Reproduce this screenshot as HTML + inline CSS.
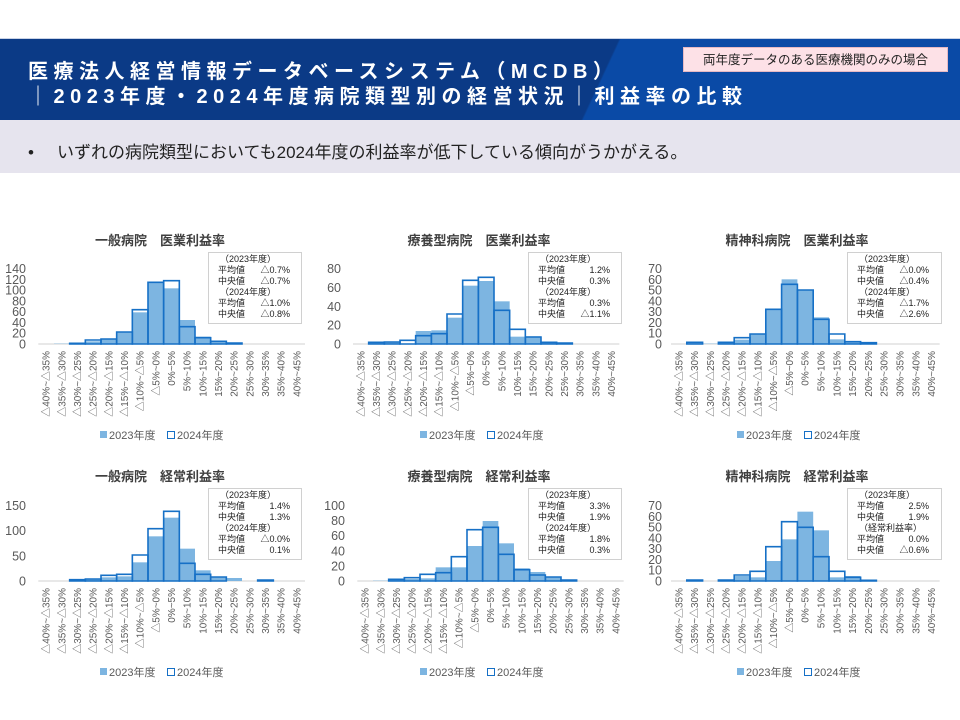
<!DOCTYPE html>
<html><head><meta charset="utf-8"><style>
body{margin:0;width:960px;height:720px;background:#fff;position:relative;overflow:hidden;font-family:"Liberation Sans","Noto Sans CJK JP",sans-serif}
.band{position:absolute;left:0;top:38px;width:960px;height:82px;background:linear-gradient(115deg,#0b3a86 0%,#0b3a86 62%,#0a4aa6 62.2%,#0a4aa6 100%);border-top:1px solid #c9d3e6}
.t{position:absolute;left:28px;color:#fff;font-weight:bold;font-size:20px;letter-spacing:5.5px;white-space:nowrap;font-family:"Liberation Sans","Noto Sans CJK JP",sans-serif}
.badge{position:absolute;left:683px;top:47px;width:265px;height:25px;background:#fde1e7;color:#222;font-size:12.5px;line-height:25px;text-align:center;border:1px solid #e6b9c3;box-sizing:border-box}
.gray{position:absolute;left:0;top:120px;width:960px;height:53px;background:#e6e4ee}
.bul{position:absolute;left:28px;top:138px;font-size:17px;color:#222;white-space:nowrap}
.bul span{display:inline-block;width:29px}
svg{position:absolute;left:0;top:0}
.f{fill:#7db5e1}
.o{fill:none;stroke:#1670c6;stroke-width:1.6px;vector-effect:non-scaling-stroke}
.ax{stroke:#d9d9d9;stroke-width:1.2px;vector-effect:non-scaling-stroke}
.xl text{font-size:30px;fill:#595959;text-anchor:end}
.yl{font-size:12.5px;fill:#595959;text-anchor:end}
.ti{font-size:13px;font-weight:bold;fill:#404040;text-anchor:middle}
.st{font-size:9px;fill:#222}
.lg{font-size:11px;fill:#595959}
</style></head><body>
<div class="band"></div>
<div class="t" style="top:55px">医療法人経営情報データベースシステム（MCDB）</div>
<div class="t" style="top:80px">｜2023年度・2024年度病院類型別の経営状況｜利益率の比較</div>
<div class="badge">両年度データのある医療機関のみの場合</div>
<div class="gray"></div>
<div class="bul"><span>•</span>いずれの病院類型においても2024年度の利益率が低下している傾向がうかがえる。</div>
<svg width="960" height="720" viewBox="0 0 960 720">
<!-- Chart 1 -->
<g transform="translate(0,225) scale(0.33333)">
<line class="ax" x1="115" y1="357" x2="915" y2="357"/>
<rect class="f" x="162" y="356" width="47" height="1"/><rect class="f" x="209" y="354" width="47" height="3"/><rect class="f" x="256" y="349" width="47" height="8"/><rect class="f" x="303" y="343" width="47" height="14"/><rect class="f" x="350" y="322" width="47" height="35"/><rect class="f" x="397" y="262" width="47" height="95"/><rect class="f" x="444" y="170" width="47" height="187"/><rect class="f" x="491" y="190" width="47" height="167"/><rect class="f" x="538" y="285" width="47" height="72"/><rect class="f" x="585" y="335" width="47" height="22"/><rect class="f" x="632" y="348" width="47" height="9"/><rect class="f" x="679" y="353" width="47" height="4"/>
<rect class="o" x="209" y="355" width="47" height="2"/><rect class="o" x="256" y="345" width="47" height="12"/><rect class="o" x="303" y="342" width="47" height="15"/><rect class="o" x="350" y="321" width="47" height="36"/><rect class="o" x="397" y="254" width="47" height="103"/><rect class="o" x="444" y="172" width="47" height="185"/><rect class="o" x="491" y="167" width="47" height="190"/><rect class="o" x="538" y="305" width="47" height="52"/><rect class="o" x="585" y="338" width="47" height="19"/><rect class="o" x="632" y="349" width="47" height="8"/><rect class="o" x="679" y="354" width="47" height="3"/>
<g class="xl" transform="translate(115,378)">
<text transform="translate(34,0) rotate(-90)">△40%~△35%</text><text transform="translate(81,0) rotate(-90)">△35%~△30%</text><text transform="translate(128,0) rotate(-90)">△30%~△25%</text><text transform="translate(175,0) rotate(-90)">△25%~△20%</text><text transform="translate(222,0) rotate(-90)">△20%~△15%</text><text transform="translate(269,0) rotate(-90)">△15%~△10%</text><text transform="translate(316,0) rotate(-90)">△10%~△5%</text><text transform="translate(363,0) rotate(-90)">△5%~0%</text><text transform="translate(410,0) rotate(-90)">0%~5%</text><text transform="translate(457,0) rotate(-90)">5%~10%</text><text transform="translate(504,0) rotate(-90)">10%~15%</text><text transform="translate(551,0) rotate(-90)">15%~20%</text><text transform="translate(598,0) rotate(-90)">20%~25%</text><text transform="translate(645,0) rotate(-90)">25%~30%</text><text transform="translate(692,0) rotate(-90)">30%~35%</text><text transform="translate(739,0) rotate(-90)">35%~40%</text><text transform="translate(786,0) rotate(-90)">40%~45%</text>
</g></g>
<!-- Chart 2 -->
<g transform="translate(320,225) scale(0.33333)">
<line class="ax" x1="99" y1="357" x2="898" y2="357"/>
<rect class="f" x="146" y="353" width="47" height="4"/><rect class="f" x="193" y="351" width="47" height="6"/><rect class="f" x="240" y="356" width="47" height="1"/><rect class="f" x="287" y="318" width="47" height="39"/><rect class="f" x="334" y="316" width="47" height="41"/><rect class="f" x="381" y="278" width="47" height="79"/><rect class="f" x="428" y="182" width="47" height="175"/><rect class="f" x="475" y="168" width="47" height="189"/><rect class="f" x="522" y="229" width="47" height="128"/><rect class="f" x="569" y="335" width="47" height="22"/><rect class="f" x="616" y="334" width="47" height="23"/><rect class="f" x="663" y="352" width="47" height="5"/><rect class="f" x="710" y="355" width="47" height="2"/>
<rect class="o" x="146" y="352" width="47" height="5"/><rect class="o" x="193" y="351" width="47" height="6"/><rect class="o" x="240" y="346" width="47" height="11"/><rect class="o" x="287" y="332" width="47" height="25"/><rect class="o" x="334" y="326" width="47" height="31"/><rect class="o" x="381" y="267" width="47" height="90"/><rect class="o" x="428" y="166" width="47" height="191"/><rect class="o" x="475" y="157" width="47" height="200"/><rect class="o" x="522" y="256" width="47" height="101"/><rect class="o" x="569" y="313" width="47" height="44"/><rect class="o" x="616" y="336" width="47" height="21"/><rect class="o" x="663" y="352" width="47" height="5"/><rect class="o" x="710" y="354" width="47" height="3"/>
<g class="xl" transform="translate(99,378)">
<text transform="translate(34,0) rotate(-90)">△40%~△35%</text><text transform="translate(81,0) rotate(-90)">△35%~△30%</text><text transform="translate(128,0) rotate(-90)">△30%~△25%</text><text transform="translate(175,0) rotate(-90)">△25%~△20%</text><text transform="translate(222,0) rotate(-90)">△20%~△15%</text><text transform="translate(269,0) rotate(-90)">△15%~△10%</text><text transform="translate(316,0) rotate(-90)">△10%~△5%</text><text transform="translate(363,0) rotate(-90)">△5%~0%</text><text transform="translate(410,0) rotate(-90)">0%~5%</text><text transform="translate(457,0) rotate(-90)">5%~10%</text><text transform="translate(504,0) rotate(-90)">10%~15%</text><text transform="translate(551,0) rotate(-90)">15%~20%</text><text transform="translate(598,0) rotate(-90)">20%~25%</text><text transform="translate(645,0) rotate(-90)">25%~30%</text><text transform="translate(692,0) rotate(-90)">30%~35%</text><text transform="translate(739,0) rotate(-90)">35%~40%</text><text transform="translate(786,0) rotate(-90)">40%~45%</text>
</g></g>
<!-- Chart 3 -->
<g transform="translate(640,225) scale(0.33333)">
<line class="ax" x1="93" y1="357" x2="899" y2="357"/>
<rect class="f" x="140.4" y="355" width="47.4" height="2"/><rect class="f" x="187.8" y="356" width="47.4" height="1"/><rect class="f" x="235.2" y="353" width="47.4" height="4"/><rect class="f" x="282.6" y="344" width="47.4" height="13"/><rect class="f" x="330" y="327" width="47.4" height="30"/><rect class="f" x="377.4" y="255" width="47.4" height="102"/><rect class="f" x="424.8" y="163" width="47.4" height="194"/><rect class="f" x="472.2" y="195" width="47.4" height="162"/><rect class="f" x="519.6" y="277" width="47.4" height="80"/><rect class="f" x="567" y="343" width="47.4" height="14"/><rect class="f" x="614.4" y="350" width="47.4" height="7"/><rect class="f" x="661.8" y="353" width="47.4" height="4"/>
<rect class="o" x="140.4" y="352" width="47.4" height="5"/><rect class="o" x="235.2" y="352" width="47.4" height="5"/><rect class="o" x="282.6" y="338" width="47.4" height="19"/><rect class="o" x="330" y="327" width="47.4" height="30"/><rect class="o" x="377.4" y="253" width="47.4" height="104"/><rect class="o" x="424.8" y="178" width="47.4" height="179"/><rect class="o" x="472.2" y="195" width="47.4" height="162"/><rect class="o" x="519.6" y="283" width="47.4" height="74"/><rect class="o" x="567" y="327" width="47.4" height="30"/><rect class="o" x="614.4" y="350" width="47.4" height="7"/><rect class="o" x="661.8" y="353" width="47.4" height="4"/>
<g class="xl" transform="translate(93,378)">
<text transform="translate(34,0) rotate(-90)">△40%~△35%</text><text transform="translate(81,0) rotate(-90)">△35%~△30%</text><text transform="translate(129,0) rotate(-90)">△30%~△25%</text><text transform="translate(176,0) rotate(-90)">△25%~△20%</text><text transform="translate(224,0) rotate(-90)">△20%~△15%</text><text transform="translate(271,0) rotate(-90)">△15%~△10%</text><text transform="translate(318,0) rotate(-90)">△10%~△5%</text><text transform="translate(366,0) rotate(-90)">△5%~0%</text><text transform="translate(413,0) rotate(-90)">0%~5%</text><text transform="translate(461,0) rotate(-90)">5%~10%</text><text transform="translate(508,0) rotate(-90)">10%~15%</text><text transform="translate(555,0) rotate(-90)">15%~20%</text><text transform="translate(603,0) rotate(-90)">20%~25%</text><text transform="translate(650,0) rotate(-90)">25%~30%</text><text transform="translate(698,0) rotate(-90)">30%~35%</text><text transform="translate(745,0) rotate(-90)">35%~40%</text><text transform="translate(792,0) rotate(-90)">40%~45%</text>
</g></g>
<!-- Chart 4 -->
<g transform="translate(0,460) scale(0.33333)">
<line class="ax" x1="115" y1="363" x2="915" y2="363"/>
<rect class="f" x="209" y="359" width="47" height="4"/><rect class="f" x="256" y="357" width="47" height="6"/><rect class="f" x="303" y="352" width="47" height="11"/><rect class="f" x="350" y="349" width="47" height="14"/><rect class="f" x="397" y="307" width="47" height="56"/><rect class="f" x="444" y="229" width="47" height="134"/><rect class="f" x="491" y="173" width="47" height="190"/><rect class="f" x="538" y="266" width="47" height="97"/><rect class="f" x="585" y="331" width="47" height="32"/><rect class="f" x="632" y="350" width="47" height="13"/><rect class="f" x="679" y="354" width="47" height="9"/><rect class="f" x="773" y="360" width="47" height="3"/>
<rect class="o" x="209" y="359" width="47" height="4"/><rect class="o" x="256" y="357" width="47" height="6"/><rect class="o" x="303" y="346" width="47" height="17"/><rect class="o" x="350" y="343" width="47" height="20"/><rect class="o" x="397" y="285" width="47" height="78"/><rect class="o" x="444" y="206" width="47" height="157"/><rect class="o" x="491" y="154" width="47" height="209"/><rect class="o" x="538" y="310" width="47" height="53"/><rect class="o" x="585" y="343" width="47" height="20"/><rect class="o" x="632" y="351" width="47" height="12"/><rect class="o" x="773" y="360" width="47" height="3"/>
<g class="xl" transform="translate(115,384)">
<text transform="translate(34,0) rotate(-90)">△40%~△35%</text><text transform="translate(81,0) rotate(-90)">△35%~△30%</text><text transform="translate(128,0) rotate(-90)">△30%~△25%</text><text transform="translate(175,0) rotate(-90)">△25%~△20%</text><text transform="translate(222,0) rotate(-90)">△20%~△15%</text><text transform="translate(269,0) rotate(-90)">△15%~△10%</text><text transform="translate(316,0) rotate(-90)">△10%~△5%</text><text transform="translate(363,0) rotate(-90)">△5%~0%</text><text transform="translate(410,0) rotate(-90)">0%~5%</text><text transform="translate(457,0) rotate(-90)">5%~10%</text><text transform="translate(504,0) rotate(-90)">10%~15%</text><text transform="translate(551,0) rotate(-90)">15%~20%</text><text transform="translate(598,0) rotate(-90)">20%~25%</text><text transform="translate(645,0) rotate(-90)">25%~30%</text><text transform="translate(692,0) rotate(-90)">30%~35%</text><text transform="translate(739,0) rotate(-90)">35%~40%</text><text transform="translate(786,0) rotate(-90)">40%~45%</text>
</g></g>
<!-- Chart 5 -->
<g transform="translate(320,460) scale(0.33333)">
<line class="ax" x1="112" y1="363" x2="911" y2="363"/>
<rect class="f" x="159" y="362" width="47" height="1"/><rect class="f" x="206" y="358" width="47" height="5"/><rect class="f" x="253" y="357" width="47" height="6"/><rect class="f" x="300" y="355" width="47" height="8"/><rect class="f" x="347" y="322" width="47" height="41"/><rect class="f" x="394" y="322" width="47" height="41"/><rect class="f" x="441" y="258" width="47" height="105"/><rect class="f" x="488" y="183" width="47" height="180"/><rect class="f" x="535" y="250" width="47" height="113"/><rect class="f" x="582" y="325" width="47" height="38"/><rect class="f" x="629" y="336" width="47" height="27"/><rect class="f" x="676" y="352" width="47" height="11"/><rect class="f" x="723" y="360" width="47" height="3"/>
<rect class="o" x="206" y="358" width="47" height="5"/><rect class="o" x="253" y="353" width="47" height="10"/><rect class="o" x="300" y="343" width="47" height="20"/><rect class="o" x="347" y="338" width="47" height="25"/><rect class="o" x="394" y="290" width="47" height="73"/><rect class="o" x="441" y="209" width="47" height="154"/><rect class="o" x="488" y="202" width="47" height="161"/><rect class="o" x="535" y="283" width="47" height="80"/><rect class="o" x="582" y="329" width="47" height="34"/><rect class="o" x="629" y="345" width="47" height="18"/><rect class="o" x="676" y="351" width="47" height="12"/><rect class="o" x="723" y="360" width="47" height="3"/>
<g class="xl" transform="translate(112,384)">
<text transform="translate(34,0) rotate(-90)">△40%~△35%</text><text transform="translate(81,0) rotate(-90)">△35%~△30%</text><text transform="translate(128,0) rotate(-90)">△30%~△25%</text><text transform="translate(175,0) rotate(-90)">△25%~△20%</text><text transform="translate(222,0) rotate(-90)">△20%~△15%</text><text transform="translate(269,0) rotate(-90)">△15%~△10%</text><text transform="translate(316,0) rotate(-90)">△10%~△5%</text><text transform="translate(363,0) rotate(-90)">△5%~0%</text><text transform="translate(410,0) rotate(-90)">0%~5%</text><text transform="translate(457,0) rotate(-90)">5%~10%</text><text transform="translate(504,0) rotate(-90)">10%~15%</text><text transform="translate(551,0) rotate(-90)">15%~20%</text><text transform="translate(598,0) rotate(-90)">20%~25%</text><text transform="translate(645,0) rotate(-90)">25%~30%</text><text transform="translate(692,0) rotate(-90)">30%~35%</text><text transform="translate(739,0) rotate(-90)">35%~40%</text><text transform="translate(786,0) rotate(-90)">40%~45%</text>
</g></g>
<!-- Chart 6 -->
<g transform="translate(640,460) scale(0.33333)">
<line class="ax" x1="93" y1="363" x2="899" y2="363"/>
<rect class="f" x="140.4" y="360" width="47.4" height="3"/><rect class="f" x="235.2" y="361" width="47.4" height="2"/><rect class="f" x="282.6" y="348" width="47.4" height="15"/><rect class="f" x="330" y="352" width="47.4" height="11"/><rect class="f" x="377.4" y="303" width="47.4" height="60"/><rect class="f" x="424.8" y="238" width="47.4" height="125"/><rect class="f" x="472.2" y="155" width="47.4" height="208"/><rect class="f" x="519.6" y="211" width="47.4" height="152"/><rect class="f" x="567" y="352" width="47.4" height="11"/><rect class="f" x="614.4" y="348" width="47.4" height="15"/><rect class="f" x="661.8" y="361" width="47.4" height="2"/>
<rect class="o" x="140.4" y="360" width="47.4" height="3"/><rect class="o" x="235.2" y="360" width="47.4" height="3"/><rect class="o" x="282.6" y="345" width="47.4" height="18"/><rect class="o" x="330" y="334" width="47.4" height="29"/><rect class="o" x="377.4" y="260" width="47.4" height="103"/><rect class="o" x="424.8" y="185" width="47.4" height="178"/><rect class="o" x="472.2" y="202" width="47.4" height="161"/><rect class="o" x="519.6" y="290" width="47.4" height="73"/><rect class="o" x="567" y="334" width="47.4" height="29"/><rect class="o" x="614.4" y="352" width="47.4" height="11"/><rect class="o" x="661.8" y="361" width="47.4" height="2"/>
<g class="xl" transform="translate(93,384)">
<text transform="translate(34,0) rotate(-90)">△40%~△35%</text><text transform="translate(81,0) rotate(-90)">△35%~△30%</text><text transform="translate(129,0) rotate(-90)">△30%~△25%</text><text transform="translate(176,0) rotate(-90)">△25%~△20%</text><text transform="translate(224,0) rotate(-90)">△20%~△15%</text><text transform="translate(271,0) rotate(-90)">△15%~△10%</text><text transform="translate(318,0) rotate(-90)">△10%~△5%</text><text transform="translate(366,0) rotate(-90)">△5%~0%</text><text transform="translate(413,0) rotate(-90)">0%~5%</text><text transform="translate(461,0) rotate(-90)">5%~10%</text><text transform="translate(508,0) rotate(-90)">10%~15%</text><text transform="translate(555,0) rotate(-90)">15%~20%</text><text transform="translate(603,0) rotate(-90)">20%~25%</text><text transform="translate(650,0) rotate(-90)">25%~30%</text><text transform="translate(698,0) rotate(-90)">30%~35%</text><text transform="translate(745,0) rotate(-90)">35%~40%</text><text transform="translate(792,0) rotate(-90)">40%~45%</text>
</g></g>

<!-- Y labels -->
<g class="yl">
<text x="26" y="348.5">0</text><text x="26" y="337.7">20</text><text x="26" y="326.9">40</text><text x="26" y="316.1">60</text><text x="26" y="305.3">80</text><text x="26" y="294.6">100</text><text x="26" y="283.8">120</text><text x="26" y="273">140</text>
<text x="341" y="348.5">0</text><text x="341" y="329.6">20</text><text x="341" y="310.8">40</text><text x="341" y="291.9">60</text><text x="341" y="273">80</text>
<text x="662" y="348.5">0</text><text x="662" y="337.7">10</text><text x="662" y="326.9">20</text><text x="662" y="316.1">30</text><text x="662" y="305.3">40</text><text x="662" y="294.6">50</text><text x="662" y="283.8">60</text><text x="662" y="273">70</text>
<text x="26" y="585.5">0</text><text x="26" y="560.3">50</text><text x="26" y="535.2">100</text><text x="26" y="510">150</text>
<text x="345" y="585.5">0</text><text x="345" y="570.4">20</text><text x="345" y="555.3">40</text><text x="345" y="540.2">60</text><text x="345" y="525.1">80</text><text x="345" y="510">100</text>
<text x="662" y="585.5">0</text><text x="662" y="574.7">10</text><text x="662" y="563.9">20</text><text x="662" y="553.1">30</text><text x="662" y="542.3">40</text><text x="662" y="531.6">50</text><text x="662" y="520.8">60</text><text x="662" y="510">70</text>
</g>

<!-- Titles -->
<text class="ti" x="160" y="245">一般病院　医業利益率</text>
<text class="ti" x="479" y="245">療養型病院　医業利益率</text>
<text class="ti" x="797" y="245">精神科病院　医業利益率</text>
<text class="ti" x="160" y="481">一般病院　経常利益率</text>
<text class="ti" x="479" y="481">療養型病院　経常利益率</text>
<text class="ti" x="797" y="481">精神科病院　経常利益率</text>

<!-- Stats boxes -->
<g class="st">
<rect x="208.5" y="252.5" width="93" height="71" fill="#fff" stroke="#d0d0d0"/>
<text x="220" y="262">（2023年度）</text><text x="218" y="273">平均値</text><text x="290" y="273" text-anchor="end">△0.7%</text><text x="218" y="284">中央値</text><text x="290" y="284" text-anchor="end">△0.7%</text><text x="220" y="295">（2024年度）</text><text x="218" y="306">平均値</text><text x="290" y="306" text-anchor="end">△1.0%</text><text x="218" y="317">中央値</text><text x="290" y="317" text-anchor="end">△0.8%</text>
<rect x="528.5" y="252.5" width="93" height="71" fill="#fff" stroke="#d0d0d0"/>
<text x="540" y="262">（2023年度）</text><text x="538" y="273">平均値</text><text x="610" y="273" text-anchor="end">1.2%</text><text x="538" y="284">中央値</text><text x="610" y="284" text-anchor="end">0.3%</text><text x="540" y="295">（2024年度）</text><text x="538" y="306">平均値</text><text x="610" y="306" text-anchor="end">0.3%</text><text x="538" y="317">中央値</text><text x="610" y="317" text-anchor="end">△1.1%</text>
<rect x="847.5" y="252.5" width="94" height="71" fill="#fff" stroke="#d0d0d0"/>
<text x="859" y="262">（2023年度）</text><text x="857" y="273">平均値</text><text x="929" y="273" text-anchor="end">△0.0%</text><text x="857" y="284">中央値</text><text x="929" y="284" text-anchor="end">△0.4%</text><text x="859" y="295">（2024年度）</text><text x="857" y="306">平均値</text><text x="929" y="306" text-anchor="end">△1.7%</text><text x="857" y="317">中央値</text><text x="929" y="317" text-anchor="end">△2.6%</text>
<rect x="208.5" y="488.5" width="93" height="71" fill="#fff" stroke="#d0d0d0"/>
<text x="220" y="498">（2023年度）</text><text x="218" y="509">平均値</text><text x="290" y="509" text-anchor="end">1.4%</text><text x="218" y="520">中央値</text><text x="290" y="520" text-anchor="end">1.3%</text><text x="220" y="531">（2024年度）</text><text x="218" y="542">平均値</text><text x="290" y="542" text-anchor="end">△0.0%</text><text x="218" y="553">中央値</text><text x="290" y="553" text-anchor="end">0.1%</text>
<rect x="528.5" y="488.5" width="93" height="71" fill="#fff" stroke="#d0d0d0"/>
<text x="540" y="498">（2023年度）</text><text x="538" y="509">平均値</text><text x="610" y="509" text-anchor="end">3.3%</text><text x="538" y="520">中央値</text><text x="610" y="520" text-anchor="end">1.9%</text><text x="540" y="531">（2024年度）</text><text x="538" y="542">平均値</text><text x="610" y="542" text-anchor="end">1.8%</text><text x="538" y="553">中央値</text><text x="610" y="553" text-anchor="end">0.3%</text>
<rect x="847.5" y="488.5" width="94" height="71" fill="#fff" stroke="#d0d0d0"/>
<text x="859" y="498">（2023年度）</text><text x="857" y="509">平均値</text><text x="929" y="509" text-anchor="end">2.5%</text><text x="857" y="520">中央値</text><text x="929" y="520" text-anchor="end">1.9%</text><text x="859" y="531">（経常利益率）</text><text x="857" y="542">平均値</text><text x="929" y="542" text-anchor="end">0.0%</text><text x="857" y="553">中央値</text><text x="929" y="553" text-anchor="end">△0.6%</text>
</g>

<!-- Legends -->
<g class="lg">
<rect x="100" y="431" width="7" height="7" fill="#7db5e1"/><text x="109" y="439">2023年度</text><rect x="167.5" y="431.5" width="7" height="7" fill="none" stroke="#1670c6"/><text x="177" y="439">2024年度</text>
<rect x="420" y="431" width="7" height="7" fill="#7db5e1"/><text x="429" y="439">2023年度</text><rect x="487.5" y="431.5" width="7" height="7" fill="none" stroke="#1670c6"/><text x="497" y="439">2024年度</text>
<rect x="737" y="431" width="7" height="7" fill="#7db5e1"/><text x="746" y="439">2023年度</text><rect x="804.5" y="431.5" width="7" height="7" fill="none" stroke="#1670c6"/><text x="814" y="439">2024年度</text>
<rect x="100" y="668" width="7" height="7" fill="#7db5e1"/><text x="109" y="676">2023年度</text><rect x="167.5" y="668.5" width="7" height="7" fill="none" stroke="#1670c6"/><text x="177" y="676">2024年度</text>
<rect x="420" y="668" width="7" height="7" fill="#7db5e1"/><text x="429" y="676">2023年度</text><rect x="487.5" y="668.5" width="7" height="7" fill="none" stroke="#1670c6"/><text x="497" y="676">2024年度</text>
<rect x="737" y="668" width="7" height="7" fill="#7db5e1"/><text x="746" y="676">2023年度</text><rect x="804.5" y="668.5" width="7" height="7" fill="none" stroke="#1670c6"/><text x="814" y="676">2024年度</text>
</g>
</svg>
</body></html>
